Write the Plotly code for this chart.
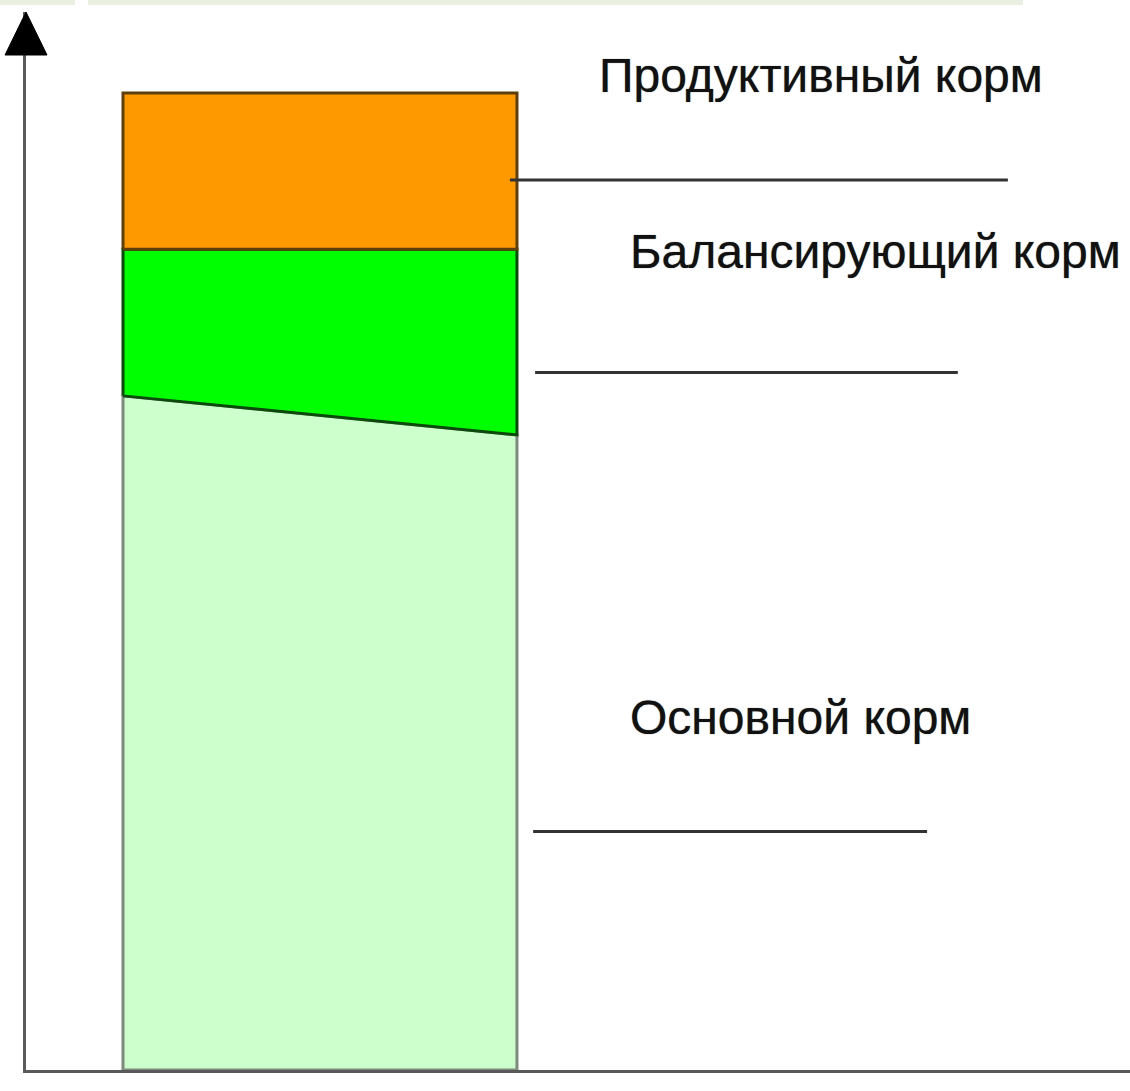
import plotly.graph_objects as go

# ---- data ----
layers = ["Основной корм", "Балансирующий корм", "Продуктивный корм"]
column_edges = [0, 1]
base_top = [69, 65]
balance_top = [84, 84]
productive_top = [100, 100]

fill_colors = ["#CCFFCC", "#00FF00", "#FF9900"]
border_colors = ["#7d8a7d", "#0b4a0b", "#5e3f0c"]

# label layout (data units)
label_x = [1.282, 1.282, 1.203]
label_y = [36.1, 83.8, 101.8]
leader_y = [24.4, 71.4, 91.1]
leader_x0 = [1.041, 1.046, 0.982]
leader_x1 = [2.041, 2.119, 2.246]

W, H = 1130, 1091
ML, MT, MB = 26, 12, 21
x_range = [-0.2462, 2.556]
y_range = [0, 108.29]

fig = go.Figure()

# polygons for each layer, built from the data arrays
bottoms = [[0, 0], base_top, balance_top]
tops = [base_top, balance_top, productive_top]
for name, lo, hi, fc, bc in zip(layers, bottoms, tops, fill_colors, border_colors):
    xs = [column_edges[0], column_edges[0], column_edges[1], column_edges[1], column_edges[0]]
    ys = [lo[0], hi[0], hi[1], lo[1], lo[0]]
    fig.add_trace(go.Scatter(
        x=xs, y=ys, mode="lines", fill="toself", fillcolor=fc,
        line=dict(color=bc, width=3), name=name, hoverinfo="name",
        showlegend=False, cliponaxis=False,
    ))

# leader lines
for y, x0, x1 in zip(leader_y, leader_x0, leader_x1):
    fig.add_shape(type="line", xref="x", yref="y", x0=x0, x1=x1, y0=y, y1=y,
                  line=dict(color="#333333", width=3))

# labels
for name, x, y in zip(layers, label_x, label_y):
    fig.add_annotation(x=x, y=y, xref="x", yref="y", text=name, showarrow=False,
                       xanchor="left", yanchor="middle",
                       font=dict(family="Liberation Sans, Arial, sans-serif", size=48,
                                 color="#111111", shadow="0px 0px 1px rgba(0,0,0,0.7)"))

# arrowhead on the y axis
fig.add_shape(type="path", xref="paper", yref="paper", xsizemode="pixel", ysizemode="pixel",
              xanchor=0, yanchor=1, path="M -21,-43 L 21,-43 L 0,0 Z",
              fillcolor="#000000", line=dict(color="#000000", width=1))

# faint band at the very top
plot_h = H - MT - MB
plot_w = W - ML
def px_paper_x(p):
    return (p - ML) / plot_w
def px_paper_y(p):
    return (H - MB - p) / plot_h
for a, b in [(0, 75), (88, 1023)]:
    fig.add_shape(type="rect", xref="paper", yref="paper",
                  x0=px_paper_x(a), x1=px_paper_x(b), y0=px_paper_y(5), y1=px_paper_y(0),
                  fillcolor="#e9f0e1", line=dict(width=0), layer="below")

fig.update_layout(
    width=W, height=H,
    margin=dict(l=ML, r=0, t=MT, b=MB, pad=0),
    paper_bgcolor="white", plot_bgcolor="white",
    showlegend=False,
    xaxis=dict(range=x_range, showline=True, linecolor="#5a5a5a", linewidth=3,
               showgrid=False, zeroline=False, showticklabels=False, ticks="", fixedrange=True),
    yaxis=dict(range=y_range, showline=True, linecolor="#5a5a5a", linewidth=3,
               showgrid=False, zeroline=False, showticklabels=False, ticks="", fixedrange=True),
)

fig.write_html("out.html")
